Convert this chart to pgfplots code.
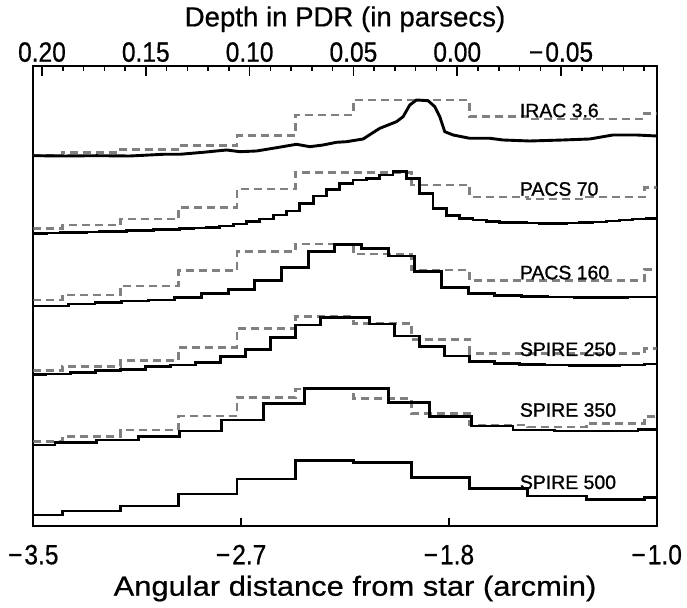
\documentclass[border=0pt]{standalone}
\usepackage{pgfplots}
\pgfplotsset{compat=1.18}
\usepackage{fontspec}
\setmainfont{Liberation Sans}
\newfontfamily\tickfont[FakeStretch=0.88,FakeBold=0.6]{Liberation Sans}
\newfontfamily\wtitlefont[FakeStretch=1.12,FakeBold=0.6]{Liberation Sans}
\newfontfamily\ttitlefont[FakeBold=0.6]{Liberation Sans}
\newfontfamily\labfont[FakeBold=1.2]{Liberation Sans}
\definecolor{dgray}{RGB}{128,128,128}
\tikzset{lab/.style={anchor=base west, inner sep=0pt, font=\fontsize{19.5}{20}\labfont}}
\begin{document}
\begin{tikzpicture}
\pgfplotsset{
  common/.style={
    scale only axis, width=623.4bp, height=460bp,
    at={(0,0)}, anchor=south west,
    ymin=0, ymax=460, ytick=\empty,
    tick align=inside,
    tick style={black, line width=1.5bp},
  },
  obs/.style={black, line width=2.9bp, const plot},
  mod/.style={dgray, line width=2.9bp, const plot, dash pattern=on 8bp off 5bp},
}
\begin{axis}[common, name=ax,
  xmin=-3.5, xmax=-1.0,
  xtick={-3.5,-2.666667,-1.833333,-1.0},
  xticklabels={−\kern2pt3.5,−\kern2pt2.7,−\kern2pt1.8,−\kern2pt1.0},
  minor x tick num=9,
  xtick pos=left, xticklabel pos=left,
  major tick length=8bp, minor tick length=3.5bp,
  axis line style={line width=2.2bp},
  xticklabel style={font=\fontsize{28}{28}\tickfont, anchor=base, inner sep=0pt, yshift=-38.3bp},
  xlabel={Angular distance from star (arcmin)},
  xlabel style={font=\fontsize{27.7}{28}\wtitlefont, at={(axis description cs:0.5,0)}, anchor=base, inner sep=0pt, yshift=-69.7bp, xshift=10bp},
]
% IRAC 3.6
\addplot[mod] coordinates {(-3.5,371) (-3.3833,373.3) (-3.15,376.7) (-2.9167,380.3) (-2.6833,390.3) (-2.45,411) (-2.2167,426) (-1.9833,426) (-1.75,409.5) (-1.5167,407) (-1.2833,407) (-1.05,412.7) (-1.0,412.7)};
\addplot[black, line width=2.9bp] coordinates {(-3.5,370.3) (-3.3798,370) (-3.2459,370.3) (-3.1124,370) (-2.9790,371.7) (-2.9120,371.7) (-2.8186,373.7) (-2.7249,376) (-2.6715,374.3) (-2.6046,375) (-2.5245,378.3) (-2.4443,381.7) (-2.3910,379.3) (-2.3377,381) (-2.2840,383.7) (-2.2439,384.3) (-2.1774,387) (-2.1104,397.7) (-2.0435,404.3) (-2.0170,409.3) (-1.9902,421) (-1.9633,426) (-1.9168,425.3) (-1.8900,419.3) (-1.8699,409.3) (-1.8499,394.3) (-1.8166,391) (-1.7497,387.7) (-1.6695,387.7) (-1.6162,386) (-1.5092,385) (-1.3758,386) (-1.2687,387) (-1.1754,391) (-1.0816,391) (-1.0,390)};
% PACS 70
\addplot[mod] coordinates {(-3.5,297.7) (-3.3833,301) (-3.15,307) (-2.9167,318.7) (-2.6833,337) (-2.45,353.7) (-2.2167,353.7) (-1.9833,341) (-1.75,329) (-1.5167,327) (-1.2833,329) (-1.05,338.7) (-1.0,338.7)};
\addplot[obs] coordinates {(-3.5,292.7) (-3.4466,293) (-3.3931,293.3) (-3.3397,293.7) (-3.2863,294) (-3.2329,294.4) (-3.1794,294.8) (-3.1260,295.2) (-3.0726,295.7) (-3.0192,296.2) (-2.9657,296.7) (-2.9123,297.3) (-2.8589,298) (-2.8054,298.7) (-2.7520,300) (-2.6986,302) (-2.6452,304.3) (-2.5917,307) (-2.5383,311) (-2.4849,315) (-2.4315,322.7) (-2.3780,330) (-2.3246,336.7) (-2.2712,342.7) (-2.2178,346) (-2.1643,347.7) (-2.1109,351) (-2.0575,354.3) (-2.0040,347.7) (-1.9506,332.7) (-1.8972,317.7) (-1.8438,310.3) (-1.7903,307.7) (-1.7369,306) (-1.6835,304.5) (-1.6301,303.5) (-1.5766,303.3) (-1.5232,303) (-1.4698,302.7) (-1.4163,302.7) (-1.3629,303) (-1.3095,303.3) (-1.2561,304) (-1.2026,305) (-1.1492,306) (-1.0958,307) (-1.0424,307.7) (-1.0,307.7)};
% PACS 160
\addplot[mod] coordinates {(-3.5,226) (-3.3833,231) (-3.15,240) (-2.9167,255.3) (-2.6833,274.3) (-2.45,282) (-2.2167,272) (-1.9833,256) (-1.75,245.3) (-1.5167,245.3) (-1.2833,245.3) (-1.05,256.7) (-1.0,256.7)};
\addplot[obs] coordinates {(-3.5,220) (-3.3597,222) (-3.2527,223.5) (-3.1457,225) (-3.0391,226) (-2.9321,228.7) (-2.8251,232.7) (-2.7184,236.7) (-2.6114,245.3) (-2.5044,258.7) (-2.3978,274.3) (-2.2908,281.5) (-2.1838,277.7) (-2.0772,270) (-1.9701,254.3) (-1.8631,238.7) (-1.7565,232.7) (-1.6495,230.5) (-1.5425,229.5) (-1.4359,229) (-1.3289,228.7) (-1.2218,228.7) (-1.1152,229) (-1.0082,229) (-1.0,229)};
% SPIRE 250
\addplot[mod] coordinates {(-3.5,155.3) (-3.3833,159.3) (-3.15,165.3) (-2.9167,178.7) (-2.6833,197.7) (-2.45,209.3) (-2.2167,202.7) (-1.9833,186.7) (-1.75,172.7) (-1.5167,172.7) (-1.2833,172.7) (-1.05,177.7) (-1.0,177.7)};
\addplot[obs] coordinates {(-3.5,151.5) (-3.45,152) (-3.35,153.3) (-3.25,155.3) (-3.15,156.7) (-3.05,159.3) (-2.95,161) (-2.85,163.3) (-2.75,169.3) (-2.65,176.7) (-2.55,188.7) (-2.45,201) (-2.35,208.7) (-2.25,208.7) (-2.15,202) (-2.05,190) (-1.95,179.3) (-1.85,170) (-1.75,164.3) (-1.65,162.7) (-1.55,161.5) (-1.45,161) (-1.35,160.5) (-1.25,160.5) (-1.15,161) (-1.05,162) (-1.0,162)};
% SPIRE 350
\addplot[mod] coordinates {(-3.5,84.3) (-3.3833,89.3) (-3.15,96) (-2.9167,110) (-2.6833,128.7) (-2.45,137) (-2.2167,127.7) (-1.9833,112.7) (-1.75,101) (-1.5167,99) (-1.2833,102.7) (-1.05,109.3) (-1.0,109.3)};
\addplot[obs] coordinates {(-3.5,81) (-3.413,83.3) (-3.2459,86) (-3.0792,89.3) (-2.912,95) (-2.7449,106) (-2.5782,122.7) (-2.411,137.7) (-2.2439,137.7) (-2.0772,123.3) (-1.910,109.3) (-1.7429,100) (-1.5762,96) (-1.409,95) (-1.2419,95) (-1.0752,96.7) (-1.0,96.7)};
% SPIRE 500
\addplot[obs] coordinates {(-3.5,11) (-3.3833,15) (-3.15,20) (-2.9167,32) (-2.6833,47) (-2.45,65.3) (-2.2167,63.3) (-1.9833,48.7) (-1.75,37.7) (-1.5167,30) (-1.2833,26.7) (-1.05,28.7) (-1.0,28.7)};
\node[lab] at (axis cs:-1.5493,408.7) {IRAC 3.6};
\node[lab] at (axis cs:-1.5493,330.3) {PACS 70};
\node[lab] at (axis cs:-1.5493,246.7) {PACS 160};
\node[lab] at (axis cs:-1.5493,170) {SPIRE 250};
\node[lab] at (axis cs:-1.5493,109.3) {SPIRE 350};
\node[lab] at (axis cs:-1.5493,37) {SPIRE 500};
\end{axis}
\begin{axis}[common,
  x dir=reverse, xmin=-0.09607, xmax=0.20419,
  xtick={-0.05,0,0.05,0.10,0.15,0.20},
  xticklabels={−\kern2pt0.05,0.00,0.05,0.10,0.15,0.20},
  minor xtick={-0.09,-0.08,-0.07,-0.06,-0.04,-0.03,-0.02,-0.01,0.01,0.02,0.03,0.04,0.06,0.07,0.08,0.09,0.11,0.12,0.13,0.14,0.16,0.17,0.18,0.19},
  xtick pos=right, xticklabel pos=right,
  major tick length=10bp, minor tick length=5bp,
  axis line style={draw=none},
  xticklabel style={font=\fontsize{28}{28}\tickfont, anchor=base, inner sep=0pt, yshift=4.3bp},
  xlabel={Depth in PDR (in parsecs)},
  xlabel style={font=\fontsize{27.7}{28}\ttitlefont, at={(axis description cs:0.5,1)}, anchor=base, inner sep=0pt, yshift=39.6bp},
]
\end{axis}
\pgfresetboundingbox
\path[use as bounding box] ([shift={(-33.3bp,-82bp)}]ax.south west) rectangle ([shift={(30.3bp,66bp)}]ax.north east);
\end{tikzpicture}
\end{document}
